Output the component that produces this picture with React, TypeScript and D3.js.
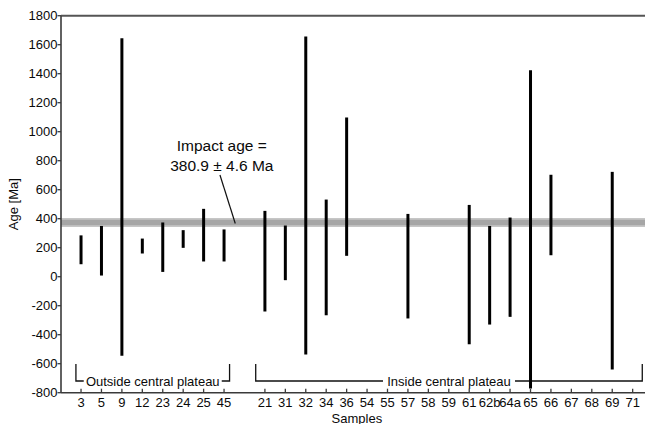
import React from "react";
import * as d3 from "d3";

// Sample identifiers along the x axis (outside group, then inside group)
const outsideSamples = ["3", "5", "9", "12", "23", "24", "25", "45"];
const insideSamples = [
  "21", "31", "32", "34", "36", "54", "55", "57", "58", "59",
  "61", "62b", "64a", "65", "66", "67", "68", "69", "71",
];

// Age range per sample [Ma]; null where no age was obtained
const outsideMin = [86, 8, -546, 160, 33, 199, 105, 105];
const outsideMax = [285, 350, 1645, 263, 374, 321, 468, 326];
const insideMin = [
  -240, -24, -537, -266, 144, null, null, -288, null, null,
  -466, -330, -277, -771, 148, null, null, -640, null,
];
const insideMax = [
  454, 353, 1656, 532, 1098, null, null, 433, null, null,
  495, 350, 408, 1424, 703, null, null, 723, null,
];

const yTicks = [1800, 1600, 1400, 1200, 1000, 800, 600, 400, 200, 0, -200, -400, -600, -800];

const impactAge = 380.9;
const impactErr = 4.6;

const W = 645;
const H = 424;
const FONT = "'Liberation Sans', Arial, Helvetica, sans-serif";

export default function App() {
  const x = d3.scaleLinear().domain([0, 29]).range([60.6, 653.1]);
  const y = d3.scaleLinear().domain([-800, 1800]).range([392.7, 15.7]);

  // slot positions: outside group at 1..8, a blank slot at 9, inside group from 10
  const samples = [
    ...outsideSamples.map((s, i) => ({ name: s, pos: i + 1, lo: outsideMin[i], hi: outsideMax[i] })),
    ...insideSamples.map((s, i) => ({ name: s, pos: i + 10, lo: insideMin[i], hi: insideMax[i] })),
  ];

  const x0 = x(0) + 0.4;
  const xEnd = x(29);
  const yTop = y(1800);
  const yBot = y(-800);
  const axisColor = "#3a3a3a";
  const textColor = "#0a0a0a";

  const brackets = [
    { label: "Outside central plateau", from: 0.75, to: 8.27, textW: 134 },
    { label: "Inside central plateau", from: 9.55, to: 28.47, textW: 128 },
  ];
  const brTop = y(-600) + 0.4;
  const brLine = 381;

  const anchorX = x(8.55);
  const anchorY = y(impactAge);
  const labelX = x(7.89);

  return (
    <svg
      width={W}
      height={H}
      style={{ position: "absolute", left: 0, top: 0, background: "#fff" }}
      fontFamily={FONT}
    >
      {/* impact age band */}
      <line x1={x0} x2={W + 10} y1={anchorY + 1} y2={anchorY + 1} stroke="#c6c6c6" strokeWidth={9} />
      <line x1={x0} x2={W + 10} y1={anchorY + 1} y2={anchorY + 1} stroke="#a6a6a6" strokeWidth={5.5} />

      {/* group brackets */}
      {brackets.map((b) => {
        const bx1 = x(b.from);
        const bx2 = x(b.to);
        const cx = (bx1 + bx2) / 2;
        const tl = cx - b.textW / 2 - 2;
        const tr = cx + b.textW / 2 + 2;
        return (
          <g key={b.label} stroke="#111" strokeWidth={1.3} fill="none">
            <path d={`M${bx1},${brTop}V${brLine}H${tl}`} />
            <path d={`M${tr},${brLine}H${bx2}V${brTop}`} />
            <text
              x={cx}
              y={brLine + 4.6}
              textAnchor="middle"
              fontSize={13}
              fill={textColor}
              stroke="none"
            >
              {b.label}
            </text>
          </g>
        );
      })}

      {/* age ranges */}
      {samples
        .filter((s) => s.lo !== null && s.hi !== null)
        .map((s) => (
          <line
            key={s.name}
            x1={x(s.pos)}
            x2={x(s.pos)}
            y1={y(s.hi as number)}
            y2={y(s.lo as number)}
            stroke="#000"
            strokeWidth={3}
          />
        ))}

      {/* annotation */}
      <text x={labelX} y={151} textAnchor="middle" fontSize={15.5} fill={textColor}>
        Impact age =
      </text>
      <text x={labelX} y={170.5} textAnchor="middle" fontSize={15.5} fill={textColor}>
        {`${impactAge} ± ${impactErr} Ma`}
      </text>
      <line x1={x(7.8)} y1={175} x2={anchorX} y2={anchorY + 2} stroke="#111" strokeWidth={1.2} />

      {/* frame */}
      <line x1={x0} x2={xEnd} y1={yTop} y2={yTop} stroke="#555" strokeWidth={2} />
      <line x1={x0} x2={x0} y1={yTop} y2={yBot} stroke={axisColor} strokeWidth={1.6} />
      <line x1={x0} x2={xEnd} y1={yBot} y2={yBot} stroke={axisColor} strokeWidth={1.6} />

      {/* y axis */}
      {yTicks.map((t) => (
        <g key={t}>
          <line x1={x0 - 3.5} x2={x0} y1={y(t)} y2={y(t)} stroke={axisColor} strokeWidth={1.3} />
          <text x={x0 - 3.5} y={y(t) + 4.6} textAnchor="end" fontSize={13} fill={textColor}>
            {t}
          </text>
        </g>
      ))}
      <text
        transform={`translate(${17.5},${(yTop + yBot) / 2}) rotate(-90)`}
        textAnchor="middle"
        fontSize={13}
        fill={textColor}
      >
        Age [Ma]
      </text>

      {/* x axis */}
      {samples.map((s) => (
        <g key={s.name}>
          <line x1={x(s.pos)} x2={x(s.pos)} y1={yBot - 4} y2={yBot} stroke={axisColor} strokeWidth={1.3} />
          <text x={x(s.pos)} y={yBot + 14} textAnchor="middle" fontSize={13} fill={textColor}>
            {s.name}
          </text>
        </g>
      ))}
      <text x={(x(0) + x(29)) / 2} y={422.5} textAnchor="middle" fontSize={13} fill={textColor}>
        Samples
      </text>
    </svg>
  );
}
